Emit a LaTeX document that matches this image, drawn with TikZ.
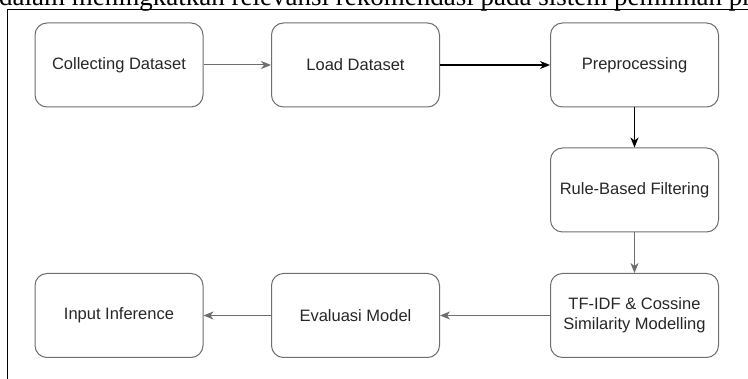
\documentclass[tikz,border=0pt]{standalone}
\usepackage{fontspec}
\setmainfont{Liberation Sans}
\newfontfamily\serifnote{Liberation Serif}
\usetikzlibrary{arrows.meta}
\definecolor{edgegray}{HTML}{6E6E6E}
\definecolor{txtgray}{HTML}{262626}
\tikzset{
  stepbox/.style={draw=edgegray, line width=1pt, rounded corners=12pt, minimum width=168pt, minimum height=84pt,
    inner sep=0pt, align=center, text=txtgray, font=\fontsize{16.5}{20}\selectfont},
  grayarrow/.style={draw=edgegray, line width=1pt, -{Stealth[length=10pt,width=8pt,inset=3pt]}},
  blackarrow/.style={draw=black, line width=1.4pt, -{Stealth[length=10pt,width=8pt,inset=3pt]}},
}
\begin{document}
\begin{tikzpicture}[x=1pt,y=-1pt]
\useasboundingbox (0,0) rectangle (748,379);
\clip (0,0) rectangle (748,379);
\node[anchor=base west, inner sep=0pt, font=\serifnote\fontsize{27}{31}\selectfont] (head) at (-1,6) {dalam meningkatkan relevansi rekomendasi pada sistem pemilihan produk};
\coordinate (ftl) at (7.5,9.5);
\coordinate (ftr) at (748,9.5);
\coordinate (fbl) at (7.5,379);
\draw[line width=1.5pt] (ftr) -- (ftl) -- (fbl);
\node[stepbox] (collect) at (119,65) {Collecting Dataset};
\node[stepbox] (load) at (355.5,65) {Load Dataset};
\node[stepbox] (prep) at (634.5,65) {Preprocessing};
\node[stepbox] (rule) at (634.5,190) {Rule-Based Filtering};
\node[stepbox] (tfidf) at (634.5,315.5) {TF-IDF \& Cossine\\Similarity Modelling};
\node[stepbox] (eval) at (355.5,315.5) {Evaluasi Model};
\node[stepbox] (input) at (119,315.5) {Input Inference};
\draw[grayarrow] (collect) -- (load);
\draw[blackarrow] (load) -- (prep);
\draw[blackarrow] (prep) -- (rule);
\draw[grayarrow] (rule) -- (tfidf);
\draw[grayarrow] (tfidf) -- (eval);
\draw[grayarrow] (eval) -- (input);
\end{tikzpicture}
\end{document}
